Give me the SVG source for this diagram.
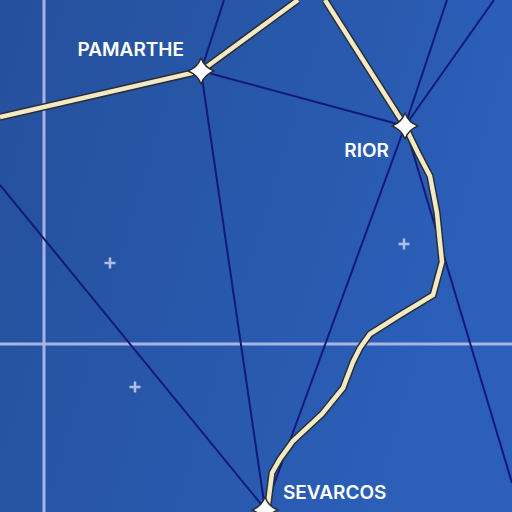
<svg xmlns="http://www.w3.org/2000/svg" width="512" height="512" viewBox="0 0 512 512">
<style>
.grid{stroke:#a9b3e3;stroke-width:3;fill:none}
.link{stroke:#12197a;stroke-width:2;fill:none}
.routeO{stroke:#2a2e38;stroke-width:7.5;fill:none;stroke-linejoin:miter;stroke-linecap:butt}
.routeI{stroke:#f2eac4;stroke-width:4.5;fill:none;stroke-linejoin:miter;stroke-linecap:butt}
.plus{stroke:#b4bce6;stroke-width:2.5;fill:none}
.star{fill:#ffffff;stroke:#2a2e38;stroke-width:1.5;stroke-linejoin:round}
.lbl{font-family:Inter,"Open Sans","Liberation Sans",sans-serif;font-weight:600;font-size:19px;fill:#ffffff}
</style>
<defs>
<linearGradient id="bg" x1="0" y1="0" x2="1" y2="0.3">
<stop offset="0" stop-color="#25509b"/>
<stop offset="1" stop-color="#2b5fb9"/>
</linearGradient>
<path id="st" d="M0,-13 Q3.5,-3.5 13,0 Q3.5,3.5 0,13 Q-3.5,3.5 -13,0 Q-3.5,-3.5 0,-13 Z"/>
</defs>
<rect width="512" height="512" fill="url(#bg)"/>
<g id="grid">
<line class="grid" x1="44" y1="0" x2="44" y2="512"/>
<line class="grid" x1="0" y1="344" x2="512" y2="344"/>
</g>
<g id="markers">
<path class="plus" d="M104.5,263h11M110,257.5v11"/>
<path class="plus" d="M129.5,387h11M135,381.5v11"/>
<path class="plus" d="M398.5,244h11M404,238.5v11"/>
</g>
<g id="connectors">
<line class="link" x1="201" y1="71" x2="224" y2="0"/>
<line class="link" x1="201" y1="71" x2="405" y2="126"/>
<line class="link" x1="201" y1="71" x2="265" y2="509"/>
<line class="link" x1="405" y1="126" x2="447" y2="0"/>
<line class="link" x1="405" y1="126" x2="494" y2="0"/>
<line class="link" x1="405" y1="126" x2="265" y2="509"/>
<line class="link" x1="405" y1="126" x2="512" y2="483"/>
<line class="link" x1="0" y1="185" x2="265" y2="509"/>
<g id="route">
<path class="routeO" d="M0,117 L201,71 L298,0"/>
<path class="routeO" d="M325,0 L405,126 L418,153 L430,176 L437,213 L442,262 L433,295 L400,315 L370,334 L360,348 L353,362 L343,388 L322,414 L293,441 L280,459 L272,473 L267,512"/>
<path class="routeI" d="M0,117 L201,71 L298,0"/>
<path class="routeI" d="M325,0 L405,126 L418,153 L430,176 L437,213 L442,262 L433,295 L400,315 L370,334 L360,348 L353,362 L343,388 L322,414 L293,441 L280,459 L272,473 L267,512"/>
</g>
</g>
<g id="pamarthe">
<use href="#st" class="star" x="201" y="71"/>
<text class="lbl" x="184" y="56" text-anchor="end">PAMARTHE</text>
</g>
<g id="rior">
<use href="#st" class="star" x="405" y="126"/>
<text class="lbl" x="389" y="157" text-anchor="end">RIOR</text>
</g>
<g id="sevarcos">
<use href="#st" class="star" x="265" y="510"/>
<text class="lbl" x="283" y="499">SEVARCOS</text>
</g>
</svg>
